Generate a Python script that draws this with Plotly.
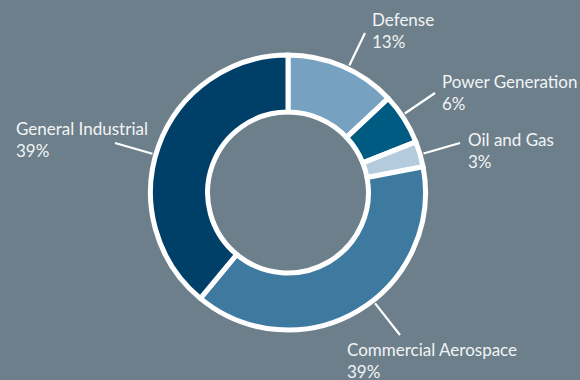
import plotly.graph_objects as go

W, H = 580, 380

categories = ["Defense", "Power Generation", "Oil and Gas", "Commercial Aerospace", "General Industrial"]
shares = [13, 6, 3, 39, 39]
share_labels = ["13%", "6%", "3%", "39%", "39%"]
colors = ["#77a1c1", "#005b82", "#b4cbde", "#3e7aa0", "#003f68"]

# layout: leader-line end points and label text positions, in pixels (top-left origin)
line_ends = [(365, 33), (435, 93), (460, 143), (400, 335), (115, 143)]
text_pos = [(372, 30.5), (442, 92.5), (468, 150.5), (347, 360), (16, 139.5)]

CX, CY, R = 288, 192.5, 137.5
R_LINE0 = 141

fig = go.Figure(go.Pie(
    labels=categories,
    values=shares,
    sort=False,
    direction="clockwise",
    rotation=0,
    hole=0.585,
    marker=dict(colors=colors, line=dict(color="white", width=5)),
    textinfo="none",
    hoverinfo="skip",
    showlegend=False,
    domain=dict(x=[(CX - R) / W, (CX + R) / W],
                y=[(H - CY - R) / H, (H - CY + R) / H]),
))

def px(x):
    return x / W

def py(y):
    return 1 - y / H

shapes = []
annotations = []
for cat, lab, (ex, ey), (tx, ty) in zip(categories, share_labels, line_ends, text_pos):
    dx, dy = ex - CX, ey - CY
    d = (dx * dx + dy * dy) ** 0.5
    sx, sy = CX + dx / d * R_LINE0, CY + dy / d * R_LINE0
    shapes.append(dict(type="line", xref="paper", yref="paper",
                       x0=px(sx), y0=py(sy), x1=px(ex), y1=py(ey),
                       line=dict(color="white", width=2.2)))
    annotations.append(dict(text=f"{cat}<br>{lab}", xref="paper", yref="paper",
                            x=px(tx), y=py(ty), xanchor="left", yanchor="middle",
                            xshift=-1, align="left", showarrow=False, borderpad=0,
                            font=dict(family="Lato", size=17, color="#f2f4f5")))

fig.update_layout(
    width=W, height=H,
    margin=dict(l=0, r=0, t=0, b=0),
    paper_bgcolor="#6c7f8b",
    plot_bgcolor="#6c7f8b",
    shapes=shapes,
    annotations=annotations,
)

fig.write_html("out.html")
